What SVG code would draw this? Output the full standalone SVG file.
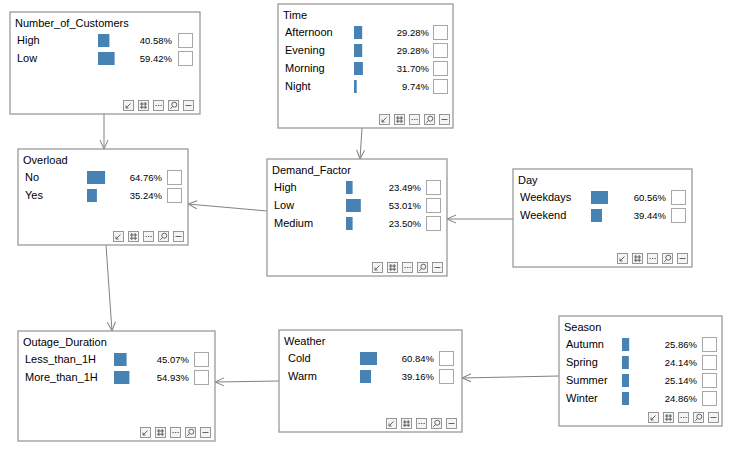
<svg xmlns="http://www.w3.org/2000/svg" xmlns:xlink="http://www.w3.org/1999/xlink" width="733" height="451" viewBox="0 0 733 451">
  <style>
    text { font-family: "Liberation Sans", Arial, sans-serif; fill: #000; }
    .box { fill: #fff; stroke: #9a9a9a; stroke-width: 1.3; }
    .title { font-size: 11px; }
    .lbl { font-size: 11px; }
    .pct { font-size: 9.5px; text-anchor: end; }
    .bar { fill: #4682b4; }
    .cb { fill: #fff; stroke: #a8a8a8; stroke-width: 1; }
    .edge { fill: none; stroke: #808080; stroke-width: 1; marker-end: url(#arr); }
    .ic { fill: #f4f4f4; stroke: #8c8c8c; stroke-width: 0.9; }
    .ig { fill: none; stroke: #555; stroke-width: 0.9; }
  </style>
  <defs>
    <marker id="arr" viewBox="0 0 10 10" refX="10" refY="5" markerWidth="10" markerHeight="10" markerUnits="userSpaceOnUse" orient="auto">
      <path d="M1,1 L10,5 L1,9" fill="none" stroke="#808080" stroke-width="1"/>
    </marker>
    <!-- toolbar: collapse-to-check, table, more, zoom, minimize -->
    <g id="tb">
      <rect class="ic" x="0.5" y="0.5" width="10" height="10"/>
      <path class="ig" d="M3,8 L7.5,3.5 M3,5.5 L3,8 L5.5,8"/>
      <rect class="ic" x="15.5" y="0.5" width="10" height="10"/>
      <path class="ig" d="M18.8,2 V9 M22.2,2 V9 M17,4 H24 M17,7.2 H24"/>
      <rect class="ic" x="30.5" y="0.5" width="10" height="10"/>
      <path class="ig" d="M32.5,5.5 h1.4 M35,5.5 h1.4 M37.5,5.5 h1.4" stroke-width="1.6"/>
      <rect class="ic" x="45.5" y="0.5" width="10" height="10"/>
      <circle class="ig" cx="51.3" cy="4.7" r="2.5"/>
      <path class="ig" d="M49.5,6.6 L47.2,8.9"/>
      <rect class="ic" x="60.5" y="0.5" width="10" height="10"/>
      <path class="ig" d="M62.5,5.5 H68.5"/>
    </g>
  </defs>

  <g id="connectors">
    <path class="edge" d="M104,114 L104,149"/>
    <path class="edge" d="M362,128 L360,159"/>
    <path class="edge" d="M267,211 L188,204"/>
    <path class="edge" d="M513,219 L447,219"/>
    <path class="edge" d="M106,245 L112,331"/>
    <path class="edge" d="M279,381 L215,382"/>
    <path class="edge" d="M559,376 L462,378"/>
  </g>

  <g id="Number_of_Customers" transform="translate(10,12)">
    <rect class="box" x="0" y="0" width="190" height="102"/>
    <text class="title" x="5" y="15">Number_of_Customers</text>
    <text class="lbl" x="7" y="32">High</text>
    <rect class="bar" x="88" y="22" width="11.4" height="13"/>
    <text class="pct" x="162" y="32">40.58%</text>
    <rect class="cb" x="168.5" y="21.5" width="14" height="14"/>
    <text class="lbl" x="7" y="50">Low</text>
    <rect class="bar" x="88" y="40" width="16.6" height="13"/>
    <text class="pct" x="162" y="50">59.42%</text>
    <rect class="cb" x="168.5" y="39.5" width="14" height="14"/>
    <use xlink:href="#tb" x="113" y="88"/>
  </g>

  <g id="Time" transform="translate(278,4)">
    <rect class="box" x="0" y="0" width="175" height="124"/>
    <text class="title" x="5" y="15">Time</text>
    <text class="lbl" x="7" y="32">Afternoon</text>
    <rect class="bar" x="76" y="22" width="8.2" height="13"/>
    <text class="pct" x="151" y="32">29.28%</text>
    <rect class="cb" x="155.5" y="21.5" width="14" height="14"/>
    <text class="lbl" x="7" y="50">Evening</text>
    <rect class="bar" x="76" y="40" width="8.2" height="13"/>
    <text class="pct" x="151" y="50">29.28%</text>
    <rect class="cb" x="155.5" y="39.5" width="14" height="14"/>
    <text class="lbl" x="7" y="68">Morning</text>
    <rect class="bar" x="76" y="58" width="8.9" height="13"/>
    <text class="pct" x="151" y="68">31.70%</text>
    <rect class="cb" x="155.5" y="57.5" width="14" height="14"/>
    <text class="lbl" x="7" y="86">Night</text>
    <rect class="bar" x="76" y="76" width="2.7" height="13"/>
    <text class="pct" x="151" y="86">9.74%</text>
    <rect class="cb" x="155.5" y="75.5" width="14" height="14"/>
    <use xlink:href="#tb" x="101" y="110"/>
  </g>

  <g id="Overload" transform="translate(18,149)">
    <rect class="box" x="0" y="0" width="170" height="96"/>
    <text class="title" x="5" y="15">Overload</text>
    <text class="lbl" x="7" y="32">No</text>
    <rect class="bar" x="69" y="22" width="18.1" height="13"/>
    <text class="pct" x="144" y="32">64.76%</text>
    <rect class="cb" x="149.5" y="21.5" width="14" height="14"/>
    <text class="lbl" x="7" y="50">Yes</text>
    <rect class="bar" x="69" y="40" width="9.9" height="13"/>
    <text class="pct" x="144" y="50">35.24%</text>
    <rect class="cb" x="149.5" y="39.5" width="14" height="14"/>
    <use xlink:href="#tb" x="95" y="82"/>
  </g>

  <g id="Demand_Factor" transform="translate(267,159)">
    <rect class="box" x="0" y="0" width="180" height="117"/>
    <text class="title" x="5" y="15">Demand_Factor</text>
    <text class="lbl" x="7" y="32">High</text>
    <rect class="bar" x="79" y="22" width="6.6" height="13"/>
    <text class="pct" x="154" y="32">23.49%</text>
    <rect class="cb" x="159.5" y="21.5" width="14" height="14"/>
    <text class="lbl" x="7" y="50">Low</text>
    <rect class="bar" x="79" y="40" width="14.8" height="13"/>
    <text class="pct" x="154" y="50">53.01%</text>
    <rect class="cb" x="159.5" y="39.5" width="14" height="14"/>
    <text class="lbl" x="7" y="68">Medium</text>
    <rect class="bar" x="79" y="58" width="6.6" height="13"/>
    <text class="pct" x="154" y="68">23.50%</text>
    <rect class="cb" x="159.5" y="57.5" width="14" height="14"/>
    <use xlink:href="#tb" x="105" y="103"/>
  </g>

  <g id="Day" transform="translate(513,169)">
    <rect class="box" x="0" y="0" width="179" height="98"/>
    <text class="title" x="5" y="15">Day</text>
    <text class="lbl" x="7" y="32">Weekdays</text>
    <rect class="bar" x="78" y="22" width="17" height="13"/>
    <text class="pct" x="153" y="32">60.56%</text>
    <rect class="cb" x="158.5" y="21.5" width="14" height="14"/>
    <text class="lbl" x="7" y="50">Weekend</text>
    <rect class="bar" x="78" y="40" width="11" height="13"/>
    <text class="pct" x="153" y="50">39.44%</text>
    <rect class="cb" x="158.5" y="39.5" width="14" height="14"/>
    <use xlink:href="#tb" x="104" y="84"/>
  </g>

  <g id="Outage_Duration" transform="translate(18,331)">
    <rect class="box" x="0" y="0" width="197" height="110"/>
    <text class="title" x="5" y="15">Outage_Duration</text>
    <text class="lbl" x="7" y="32">Less_than_1H</text>
    <rect class="bar" x="96" y="22" width="12.6" height="13"/>
    <text class="pct" x="171" y="32">45.07%</text>
    <rect class="cb" x="176.5" y="21.5" width="14" height="14"/>
    <text class="lbl" x="7" y="50">More_than_1H</text>
    <rect class="bar" x="96" y="40" width="15.4" height="13"/>
    <text class="pct" x="171" y="50">54.93%</text>
    <rect class="cb" x="176.5" y="39.5" width="14" height="14"/>
    <use xlink:href="#tb" x="122" y="96"/>
  </g>

  <g id="Weather" transform="translate(279,330)">
    <rect class="box" x="0" y="0" width="183" height="102"/>
    <text class="title" x="5" y="15">Weather</text>
    <text class="lbl" x="9" y="32">Cold</text>
    <rect class="bar" x="81" y="22" width="17" height="13"/>
    <text class="pct" x="155" y="32">60.84%</text>
    <rect class="cb" x="160.5" y="21.5" width="14" height="14"/>
    <text class="lbl" x="9" y="50">Warm</text>
    <rect class="bar" x="81" y="40" width="11" height="13"/>
    <text class="pct" x="155" y="50">39.16%</text>
    <rect class="cb" x="160.5" y="39.5" width="14" height="14"/>
    <use xlink:href="#tb" x="107" y="88"/>
  </g>

  <g id="Season" transform="translate(559,316)">
    <rect class="box" x="0" y="0" width="163" height="110"/>
    <text class="title" x="5" y="15">Season</text>
    <text class="lbl" x="7" y="32">Autumn</text>
    <rect class="bar" x="63" y="22" width="7.2" height="13"/>
    <text class="pct" x="138" y="32">25.86%</text>
    <rect class="cb" x="143.5" y="21.5" width="14" height="14"/>
    <text class="lbl" x="7" y="50">Spring</text>
    <rect class="bar" x="63" y="40" width="6.8" height="13"/>
    <text class="pct" x="138" y="50">24.14%</text>
    <rect class="cb" x="143.5" y="39.5" width="14" height="14"/>
    <text class="lbl" x="7" y="68">Summer</text>
    <rect class="bar" x="63" y="58" width="7" height="13"/>
    <text class="pct" x="138" y="68">25.14%</text>
    <rect class="cb" x="143.5" y="57.5" width="14" height="14"/>
    <text class="lbl" x="7" y="86">Winter</text>
    <rect class="bar" x="63" y="76" width="7" height="13"/>
    <text class="pct" x="138" y="86">24.86%</text>
    <rect class="cb" x="143.5" y="75.5" width="14" height="14"/>
    <use xlink:href="#tb" x="89" y="96"/>
  </g>
</svg>
